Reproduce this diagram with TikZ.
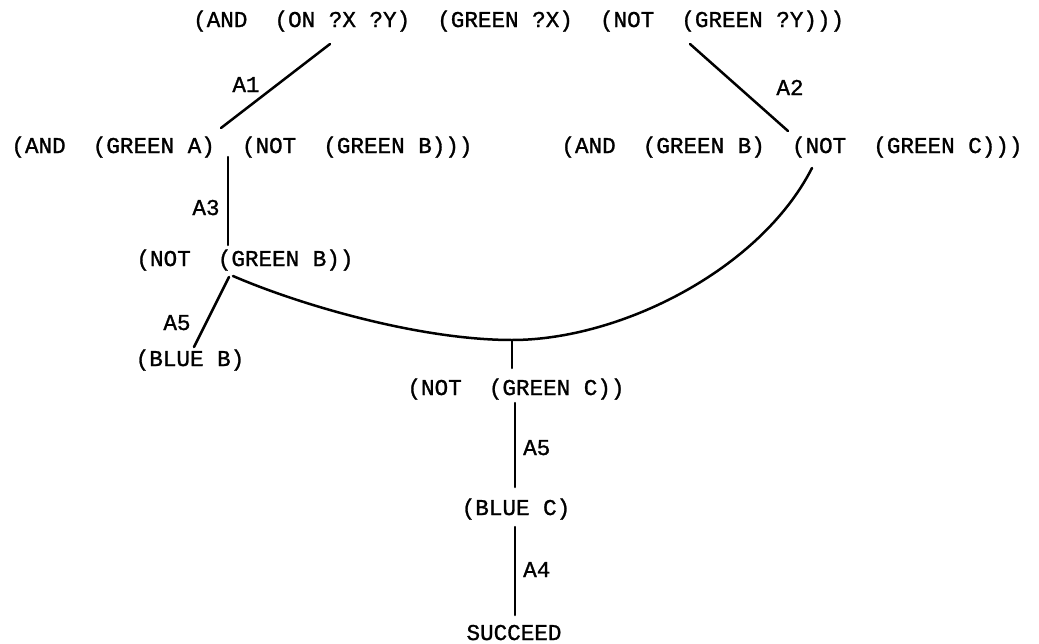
\documentclass[tikz,border=0pt]{standalone}
\usepackage{fontspec}
\newfontfamily\plotfont{Liberation Mono}[FakeBold=1.2]
\begin{document}
\begin{tikzpicture}[x=1pt,y=-1pt,
  term/.style={font=\plotfont\fontsize{22.6}{24}\selectfont, inner sep=0pt, anchor=base},
  arclabel/.style={term},
  link/.style={line width=2.5pt, line cap=round}]
\useasboundingbox (0,0) rectangle (1039,643);

% goal and subgoal expressions
\node[term, anchor=base west] (goal) at (193,27) {(AND~~(ON ?X ?Y)~~(GREEN ?X)~~(NOT~~(GREEN ?Y)))};
\node[term] (andA) at (242,153) {(AND~~(GREEN A)~~(NOT~~(GREEN B)))};
\node[term] (andB) at (792,153) {(AND~~(GREEN B)~~(NOT~~(GREEN C)))};
\node[term] (notB) at (245,266) {(NOT~~(GREEN B))};
\node[term] (blueB) at (190,366) {(BLUE B)};
\node[term] (notC) at (516,395) {(NOT~~(GREEN C))};
\node[term] (blueC) at (516,515) {(BLUE C)};
\node[term] (done) at (514,640) {SUCCEED};

% connector end points
\coordinate (a1s) at (330,44);   \coordinate (a1e) at (221,128);
\coordinate (a2s) at (690,44);   \coordinate (a2e) at (788,131);
\coordinate (a3s) at (228,157);  \coordinate (a3e) at (228,245);
\coordinate (a5s) at (229,277);  \coordinate (a5e) at (194,347);
\coordinate (arcS) at (233,276);
\coordinate (low) at (512,340);
\coordinate (arcE) at (812,168);
\coordinate (dropE) at (512,368);
\coordinate (c5s) at (515,403);  \coordinate (c5e) at (515,487);
\coordinate (c4s) at (515,527);  \coordinate (c4e) at (515,615);

% connectors
\draw[link] (a1s) -- (a1e);
\draw[link] (a2s) -- (a2e);
\draw[link] (a3s) -- (a3e);
\draw[link] (a5s) -- (a5e);
\draw[link] (arcS) .. controls (300,305) and (420,340) .. (low)
                   .. controls (620,340) and (760,270) .. (arcE);
\draw[link] (low) -- (dropE);
\draw[link] (c5s) -- (c5e);
\draw[link] (c4s) -- (c4e);

% rule labels
\node[arclabel] (l1) at (246,92) {A1};
\node[arclabel] (l2) at (790,95) {A2};
\node[arclabel] (l3) at (206,215) {A3};
\node[arclabel] (l5a) at (177,330) {A5};
\node[arclabel, anchor=base west] (l5b) at (523,455) {A5};
\node[arclabel, anchor=base west] (l4) at (523,577) {A4};
\end{tikzpicture}
\end{document}
